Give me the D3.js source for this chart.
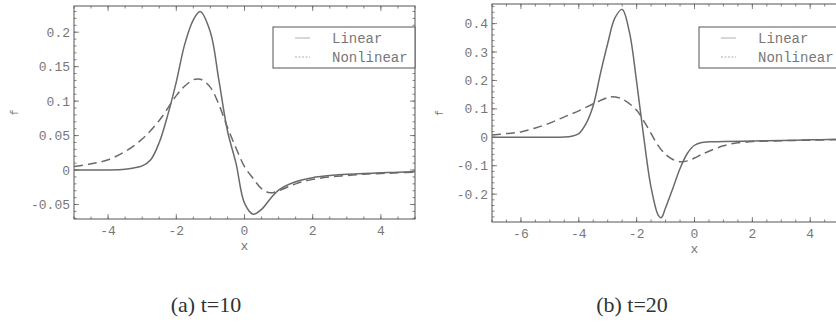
<!DOCTYPE html>
<html>
<head>
<meta charset="utf-8">
<script src="https://cdn.jsdelivr.net/npm/d3@7"></script>
<style>
  body { margin: 0; background: #fff; }
  svg { display: block; }
  .tick-label { font-family: "Liberation Mono", "DejaVu Sans Mono", monospace; font-size: 13px; fill: #777; }
  .legend-text { font-family: "Liberation Mono", "DejaVu Sans Mono", monospace; font-size: 14px; fill: #777; }
  .caption { font-family: "Liberation Serif", "DejaVu Serif", serif; font-size: 22px; fill: #333; }
</style>
</head>
<body>
<svg id="chart" width="836" height="334"></svg>
<script>
// t = 10 panel
var xsA = [-5, -4.5, -4, -3.5, -3.25, -3, -2.75, -2.5, -2.25, -2, -1.75, -1.5, -1.3, -1, -0.75, -0.5, -0.25,
  0, 0.25, 0.5, 0.75, 1, 1.5, 2, 2.5, 3, 3.5, 4, 4.5, 5];
var linearA = [0, 0, 0, 0.001, 0.003, 0.006, 0.015, 0.040, 0.080, 0.128, 0.183, 0.218, 0.230, 0.200, 0.130, 0.057, 0.010,
  -0.048, -0.064, -0.057, -0.042, -0.029, -0.017, -0.011, -0.008, -0.006, -0.005, -0.004, -0.003, -0.0025];
var xsA2 = [-5, -4.5, -4, -3.5, -3, -2.5, -2, -1.75, -1.5, -1.38, -1.25, -1, -0.75, -0.5, -0.25,
  0, 0.25, 0.5, 0.75, 1, 1.5, 2, 2.5, 3, 3.5, 4, 4.5, 5];
var nonlinearA = [0.005, 0.009, 0.015, 0.027, 0.045, 0.072, 0.108, 0.122, 0.131, 0.132, 0.131, 0.120, 0.095, 0.062, 0.032,
  0.005, -0.012, -0.027, -0.033, -0.030, -0.020, -0.0135, -0.010, -0.008, -0.006, -0.005, -0.004, -0.003];
var xTicksA = [-4, -2, 0, 2, 4];
var yTicksA = [-0.05, 0, 0.05, 0.1, 0.15, 0.2];

// t = 20 panel
var xsB = [-7, -6, -5, -4.5, -4.25, -4, -3.75, -3.5, -3.25, -3, -2.75, -2.5, -2.25, -2, -1.75, -1.5, -1.25, -1.15,
  -1, -0.75, -0.5, -0.25, 0, 0.25, 0.5, 1, 2, 3, 4, 5, 6, 7];
var linearB = [0, 0, 0, 0.001, 0.004, 0.013, 0.048, 0.112, 0.225, 0.330, 0.420, 0.450, 0.370, 0.195, -0.003, -0.177, -0.275, -0.283,
  -0.248, -0.180, -0.110, -0.057, -0.028, -0.018, -0.016, -0.015, -0.013, -0.011, -0.009, -0.007, -0.006, -0.005];
var xsB2 = [-7, -6.5, -6, -5.5, -5, -4.5, -4, -3.5, -3, -2.9, -2.5, -2, -1.75, -1.5, -1.25, -1, -0.75, -0.5, -0.25,
  0, 0.25, 0.5, 1, 1.5, 2, 3, 4, 5, 6, 7];
var nonlinearB = [0.008, 0.013, 0.019, 0.033, 0.050, 0.072, 0.093, 0.118, 0.140, 0.143, 0.135, 0.095, 0.057, 0.013, -0.030, -0.060, -0.078, -0.086, -0.083,
  -0.073, -0.060, -0.049, -0.030, -0.019, -0.015, -0.012, -0.010, -0.008, -0.007, -0.006];
var xTicksB = [-6, -4, -2, 0, 2, 4];
var yTicksB = [-0.2, -0.1, 0, 0.1, 0.2, 0.3, 0.4];

var seriesNames = ['Linear', 'Nonlinear'];
var captions = ['(a) t=10', '(b) t=20'];

var svg = d3.select('#chart');

function drawPanel(opts) {
  var g = svg.append('g');
  var x = d3.scaleLinear().domain(opts.xDomain).range([opts.left, opts.right]);
  var y = d3.scaleLinear().domain(opts.yDomain).range([opts.bottom, opts.top]);

  var clipId = 'clip-' + opts.id;
  svg.append('clipPath').attr('id', clipId)
    .append('rect')
    .attr('x', opts.left).attr('y', opts.top)
    .attr('width', opts.right - opts.left).attr('height', opts.bottom - opts.top);

  // minor + major ticks on all four sides, pointing inwards
  function tickMarks(values, len, cls) {
    values.forEach(function (v) {
      g.append('line').attr('class', cls)
        .attr('x1', x(v)).attr('x2', x(v)).attr('y1', opts.bottom).attr('y2', opts.bottom - len);
      g.append('line').attr('class', cls)
        .attr('x1', x(v)).attr('x2', x(v)).attr('y1', opts.top).attr('y2', opts.top + len);
    });
  }
  function yTickMarks(values, len, cls) {
    values.forEach(function (v) {
      g.append('line').attr('class', cls)
        .attr('x1', opts.left).attr('x2', opts.left + len).attr('y1', y(v)).attr('y2', y(v));
      g.append('line').attr('class', cls)
        .attr('x1', opts.right).attr('x2', opts.right - len).attr('y1', y(v)).attr('y2', y(v));
    });
  }
  var xMinor = d3.range(opts.xDomain[0], opts.xDomain[1] + 1e-9, opts.xMinorStep);
  var yMinor = d3.range(Math.ceil(opts.yDomain[0] / opts.yMinorStep) * opts.yMinorStep, opts.yDomain[1], opts.yMinorStep);
  tickMarks(xMinor, 2.5, 'minor');
  yTickMarks(yMinor, 2.5, 'minor');
  tickMarks(opts.xTicks, 5, 'major');
  yTickMarks(opts.yTicks, 5, 'major');
  g.selectAll('line').attr('stroke', '#666').attr('stroke-width', 0.8);

  g.append('rect')
    .attr('x', opts.left).attr('y', opts.top)
    .attr('width', opts.right - opts.left).attr('height', opts.bottom - opts.top)
    .attr('fill', 'none').attr('stroke', '#555').attr('stroke-width', 1);

  g.selectAll('.xl').data(opts.xTicks).enter().append('text')
    .attr('class', 'tick-label')
    .attr('x', function (d) { return x(d); })
    .attr('y', opts.bottom + 16)
    .attr('text-anchor', 'middle')
    .text(function (d) { return d; });

  g.selectAll('.yl').data(opts.yTicks).enter().append('text')
    .attr('class', 'tick-label')
    .attr('x', opts.left - 4)
    .attr('y', function (d) { return y(d) + 4.5; })
    .attr('text-anchor', 'end')
    .text(function (d) { return d; });

  g.append('text').attr('class', 'tick-label')
    .attr('x', x(0)).attr('y', opts.bottom + 31)
    .attr('text-anchor', 'middle').text('x');

  g.append('text').attr('class', 'tick-label')
    .attr('transform', 'translate(' + opts.fLabelX + ',' + ((opts.top + opts.bottom) / 2) + ') rotate(-90)')
    .attr('text-anchor', 'middle')
    .style('font-size', '10px')
    .text('f');

  var line = d3.line()
    .x(function (d) { return x(d[0]); })
    .y(function (d) { return y(d[1]); })
    .curve(d3.curveCatmullRom.alpha(0.5));

  var plot = g.append('g').attr('clip-path', 'url(#' + clipId + ')');
  plot.append('path')
    .datum(d3.zip(opts.xsLin, opts.lin))
    .attr('d', line)
    .attr('fill', 'none').attr('stroke', '#6a6a6a').attr('stroke-width', 1.5);
  plot.append('path')
    .datum(d3.zip(opts.xsNon, opts.non))
    .attr('d', line)
    .attr('fill', 'none').attr('stroke', '#6a6a6a').attr('stroke-width', 1.5)
    .attr('stroke-dasharray', '9,5');

  // legend
  var lg = g.append('g');
  lg.append('rect')
    .attr('x', opts.legendX).attr('y', 27)
    .attr('width', 142).attr('height', 41)
    .attr('fill', '#fff').attr('stroke', '#555').attr('stroke-width', 1);
  seriesNames.forEach(function (name, i) {
    var ly = 38 + i * 19;
    lg.append('line')
      .attr('x1', opts.legendX + 22).attr('x2', opts.legendX + 37)
      .attr('y1', ly).attr('y2', ly)
      .attr('stroke', '#999').attr('stroke-width', 0.8)
      .attr('stroke-dasharray', i === 0 ? null : '2,1.5');
    lg.append('text').attr('class', 'legend-text')
      .attr('x', opts.legendX + 59).attr('y', ly + 4.5)
      .text(name);
  });

  svg.append('text').attr('class', 'caption')
    .attr('x', opts.captionX).attr('y', 312)
    .attr('text-anchor', 'middle')
    .text(opts.caption);
}

drawPanel({
  id: 'a',
  left: 74, right: 415, top: 6, bottom: 219,
  xDomain: [-5, 5], yDomain: [-0.071, 0.238],
  xMinorStep: 0.5, yMinorStep: 0.01,
  xTicks: xTicksA, yTicks: yTicksA,
  xsLin: xsA, lin: linearA, xsNon: xsA2, non: nonlinearA,
  legendX: 273, fLabelX: 18, captionX: 206,
  caption: captions[0]
});

drawPanel({
  id: 'b',
  left: 492, right: 897, top: 4, bottom: 222,
  xDomain: [-7, 7], yDomain: [-0.298, 0.469],
  xMinorStep: 0.5, yMinorStep: 0.02,
  xTicks: xTicksB, yTicks: yTicksB,
  xsLin: xsB, lin: linearB, xsNon: xsB2, non: nonlinearB,
  legendX: 699, fLabelX: 443, captionX: 632,
  caption: captions[1]
});
</script>
</body>
</html>
